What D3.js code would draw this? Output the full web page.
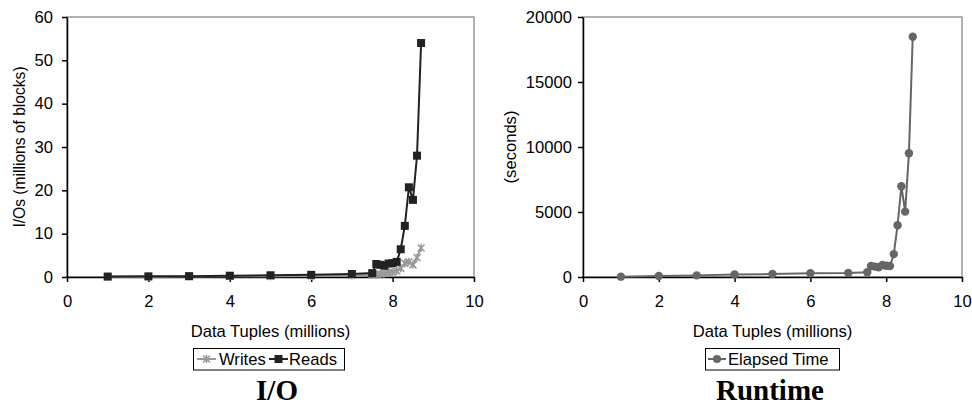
<!DOCTYPE html>
<html>
<head>
<meta charset="utf-8">
<script src="https://cdn.jsdelivr.net/npm/d3@7"></script>
<style>
  body { margin: 0; background: #fff; }
  svg { display: block; }
</style>
</head>
<body>
<svg id="chart" width="972" height="405"></svg>
<script>
// ---- data ----
const tuples = [1, 2, 3, 4, 5, 6, 7, 7.5, 7.6, 7.7, 7.8, 7.9, 8.0, 8.1, 8.2, 8.3, 8.4, 8.5, 8.6, 8.7];
const writes = [0.05, 0.08, 0.1, 0.15, 0.2, 0.25, 0.35, 0.5, 0.6, 0.7, 0.8, 1.0, 1.1, 1.4, 2.0, 3.2, 3.5, 2.8, 4.5, 6.7];
const reads = [0.1, 0.15, 0.2, 0.3, 0.4, 0.5, 0.7, 0.9, 3.0, 2.8, 2.6, 3.1, 3.2, 3.5, 6.4, 11.8, 20.7, 17.8, 28.0, 54.0];
const elapsed = [25, 75, 125, 190, 230, 290, 310, 360, 850, 800, 750, 920, 870, 850, 1760, 3980, 6980, 5030, 9520, 18480];
const xTicks = [0, 2, 4, 6, 8, 10];
const ioTicks = [0, 10, 20, 30, 40, 50, 60];
const rtTicks = [0, 5000, 10000, 15000, 20000];

const svg = d3.select("#chart");
const FONT = "Liberation Sans, Arial, sans-serif";
const FS = 16.6;

function panel(cfg) {
  const g = svg.append("g");
  const x = d3.scaleLinear().domain([0, 10]).range([cfg.left, cfg.right]);
  const y = d3.scaleLinear().domain([0, cfg.ymax]).range([277, 17]);

  // gray plot border
  g.append("rect")
    .attr("x", cfg.left).attr("y", 17)
    .attr("width", cfg.right - cfg.left).attr("height", 260)
    .attr("fill", "none").attr("stroke", "#999").attr("stroke-width", 1.5);

  const xa = g.append("g").attr("transform", `translate(0,277)`)
    .call(d3.axisBottom(x).tickValues(xTicks).tickFormat(d3.format("d")).tickSize(5).tickSizeOuter(0).tickPadding(13));
  const ya = g.append("g").attr("transform", `translate(${cfg.left},0)`)
    .call(d3.axisLeft(y).tickValues(cfg.yticks).tickFormat(d3.format("d")).tickSize(5).tickSizeOuter(0).tickPadding(cfg.ypad));
  [xa, ya].forEach(a => {
    a.attr("font-size", FS).attr("font-family", FONT);
    a.selectAll("path,line").attr("stroke", "#000").attr("stroke-width", 1.5);
    a.selectAll("text").attr("font-family", FONT).attr("font-size", FS).attr("fill", "#000");
  });

  g.append("text")
    .attr("x", (cfg.left + cfg.right) / 2).attr("y", 337)
    .attr("text-anchor", "middle").attr("font-family", FONT).attr("font-size", FS)
    .text("Data Tuples (millions)");

  g.append("text")
    .attr("transform", `translate(${cfg.ylabX},147) rotate(-90)`)
    .attr("text-anchor", "middle").attr("font-family", FONT).attr("font-size", cfg.ylabFS)
    .text(cfg.ylabel);

  g.append("text")
    .attr("x", cfg.titleX).attr("y", 400)
    .attr("text-anchor", "middle").attr("font-family", "Liberation Serif, Times New Roman, serif")
    .attr("font-weight", "bold").attr("font-size", 29)
    .text(cfg.title);

  return { g, x, y };
}

function crossMarker(sel, color) {
  sel.append("path").attr("d", "M-3.5,-3.5L3.5,3.5M-3.5,3.5L3.5,-3.5M0,-4L0,4")
    .attr("stroke", color).attr("stroke-width", 1.6).attr("fill", "none");
}

// ---- Left: I/O ----
const L = panel({ left: 67, right: 474, ymax: 60, yticks: ioTicks, ypad: 9, ylabel: "I/Os (millions of blocks)", ylabFS: 15.6, ylabX: 25, title: "I/O", titleX: 277 });
const lineL = d3.line().x((d, i) => L.x(tuples[i])).y(d => L.y(d));
L.g.append("path").attr("d", lineL(writes)).attr("fill", "none").attr("stroke", "#999").attr("stroke-width", 2);
L.g.selectAll(".wm").data(writes).enter().append("g")
  .attr("transform", (d, i) => `translate(${L.x(tuples[i])},${L.y(d)})`)
  .each(function () { crossMarker(d3.select(this), "#999"); });
L.g.append("path").attr("d", lineL(reads)).attr("fill", "none").attr("stroke", "#222").attr("stroke-width", 2);
L.g.selectAll(".rm").data(reads).enter().append("rect")
  .attr("x", (d, i) => L.x(tuples[i]) - 4).attr("y", d => L.y(d) - 4)
  .attr("width", 8).attr("height", 8).attr("fill", "#222");

// legend left
const lg = L.g.append("g");
lg.append("rect").attr("x", 193.5).attr("y", 348.5).attr("width", 151).attr("height", 21.5)
  .attr("fill", "#fff").attr("stroke", "#000").attr("stroke-width", 1);
lg.append("line").attr("x1", 197).attr("x2", 216).attr("y1", 359).attr("y2", 359).attr("stroke", "#999").attr("stroke-width", 2);
crossMarker(lg.append("g").attr("transform", "translate(206.5,359)"), "#999");
lg.append("text").attr("x", 219).attr("y", 365).attr("font-family", FONT).attr("font-size", FS).text("Writes");
lg.append("line").attr("x1", 269).attr("x2", 288).attr("y1", 359).attr("y2", 359).attr("stroke", "#222").attr("stroke-width", 2);
lg.append("rect").attr("x", 274.5).attr("y", 355).attr("width", 8).attr("height", 8).attr("fill", "#222");
lg.append("text").attr("x", 289).attr("y", 365).attr("font-family", FONT).attr("font-size", FS).text("Reads");

// ---- Right: Runtime ----
const R = panel({ left: 583, right: 962, ymax: 20000, yticks: rtTicks, ypad: 6, ylabel: "(seconds)", ylabFS: FS, ylabX: 516, title: "Runtime", titleX: 770 });
const lineR = d3.line().x((d, i) => R.x(tuples[i])).y(d => R.y(d));
R.g.append("path").attr("d", lineR(elapsed)).attr("fill", "none").attr("stroke", "#666").attr("stroke-width", 2);
R.g.selectAll(".em").data(elapsed).enter().append("circle")
  .attr("cx", (d, i) => R.x(tuples[i])).attr("cy", d => R.y(d)).attr("r", 4.2).attr("fill", "#666");

const rg = R.g.append("g");
rg.append("rect").attr("x", 705.5).attr("y", 348.5).attr("width", 134).attr("height", 21.5)
  .attr("fill", "#fff").attr("stroke", "#000").attr("stroke-width", 1);
rg.append("line").attr("x1", 708).attr("x2", 726).attr("y1", 359).attr("y2", 359).attr("stroke", "#666").attr("stroke-width", 2);
rg.append("circle").attr("cx", 717).attr("cy", 359).attr("r", 4).attr("fill", "#666");
rg.append("text").attr("x", 728).attr("y", 365).attr("font-family", FONT).attr("font-size", FS).text("Elapsed Time");
</script>
</body>
</html>
